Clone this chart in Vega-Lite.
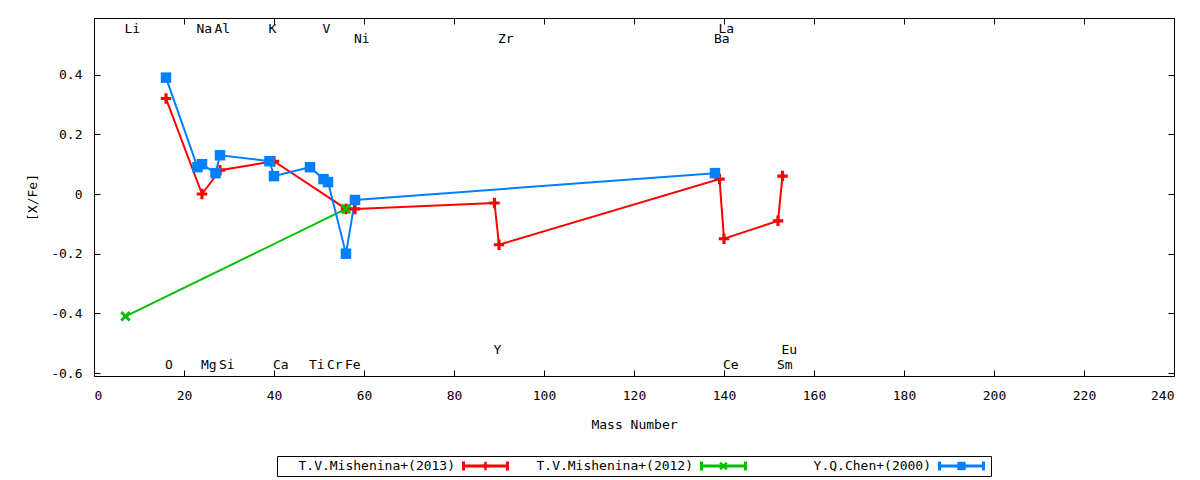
{
  "$schema": "https://vega.github.io/schema/vega-lite/v6.json",
  "padding": {"left": 26, "top": 17, "right": 5, "bottom": 5},
  "background": "#ffffff",
  "config": {
    "font": "DejaVu Sans Mono",
    "view": {"stroke": "#000000", "strokeWidth": 1},
    "axis": {
      "labelFont": "DejaVu Sans Mono",
      "titleFont": "DejaVu Sans Mono",
      "labelFontSize": 13,
      "titleFontSize": 13,
      "titleFontWeight": "normal",
      "labelColor": "#000000",
      "titleColor": "#000000",
      "tickColor": "#000000",
      "grid": false,
      "domain": false,
      "tickSize": -6
    },
    "text": {"font": "DejaVu Sans Mono", "fontSize": 13, "color": "#000000"}
  },
  "datasets": {
    "abund": [
      {"series": "T.V.Mishenina+(2013)", "el": "O", "mass": 16, "xfe": 0.32},
      {"series": "T.V.Mishenina+(2013)", "el": "Mg", "mass": 24, "xfe": 0.0},
      {"series": "T.V.Mishenina+(2013)", "el": "Si", "mass": 28, "xfe": 0.08},
      {"series": "T.V.Mishenina+(2013)", "el": "Ca", "mass": 40, "xfe": 0.11},
      {"series": "T.V.Mishenina+(2013)", "el": "Fe", "mass": 56, "xfe": -0.05},
      {"series": "T.V.Mishenina+(2013)", "el": "Ni", "mass": 58, "xfe": -0.05},
      {"series": "T.V.Mishenina+(2013)", "el": "Y", "mass": 89, "xfe": -0.03},
      {"series": "T.V.Mishenina+(2013)", "el": "Zr", "mass": 90, "xfe": -0.17},
      {"series": "T.V.Mishenina+(2013)", "el": "La", "mass": 139, "xfe": 0.05},
      {"series": "T.V.Mishenina+(2013)", "el": "Ce", "mass": 140, "xfe": -0.15},
      {"series": "T.V.Mishenina+(2013)", "el": "Sm", "mass": 152, "xfe": -0.09},
      {"series": "T.V.Mishenina+(2013)", "el": "Eu", "mass": 153, "xfe": 0.06},
      {"series": "T.V.Mishenina+(2012)", "el": "Li", "mass": 7, "xfe": -0.41},
      {"series": "T.V.Mishenina+(2012)", "el": "Fe", "mass": 56, "xfe": -0.05},
      {"series": "Y.Q.Chen+(2000)", "el": "O", "mass": 16, "xfe": 0.39},
      {"series": "Y.Q.Chen+(2000)", "el": "Na", "mass": 23, "xfe": 0.09},
      {"series": "Y.Q.Chen+(2000)", "el": "Mg", "mass": 24, "xfe": 0.10},
      {"series": "Y.Q.Chen+(2000)", "el": "Al", "mass": 27, "xfe": 0.07},
      {"series": "Y.Q.Chen+(2000)", "el": "Si", "mass": 28, "xfe": 0.13},
      {"series": "Y.Q.Chen+(2000)", "el": "K", "mass": 39, "xfe": 0.11},
      {"series": "Y.Q.Chen+(2000)", "el": "Ca", "mass": 40, "xfe": 0.06},
      {"series": "Y.Q.Chen+(2000)", "el": "Ti", "mass": 48, "xfe": 0.09},
      {"series": "Y.Q.Chen+(2000)", "el": "V", "mass": 51, "xfe": 0.05},
      {"series": "Y.Q.Chen+(2000)", "el": "Cr", "mass": 52, "xfe": 0.04},
      {"series": "Y.Q.Chen+(2000)", "el": "Fe", "mass": 56, "xfe": -0.20},
      {"series": "Y.Q.Chen+(2000)", "el": "Ni", "mass": 58, "xfe": -0.02},
      {"series": "Y.Q.Chen+(2000)", "el": "Ba", "mass": 138, "xfe": 0.07}
    ],
    "elements": [
      {"el": "Li", "mass": 7, "level": "top1"},
      {"el": "O", "mass": 16, "level": "bottom1"},
      {"el": "Na", "mass": 23, "level": "top1"},
      {"el": "Mg", "mass": 24, "level": "bottom1"},
      {"el": "Al", "mass": 27, "level": "top1"},
      {"el": "Si", "mass": 28, "level": "bottom1"},
      {"el": "K", "mass": 39, "level": "top1"},
      {"el": "Ca", "mass": 40, "level": "bottom1"},
      {"el": "Ti", "mass": 48, "level": "bottom1"},
      {"el": "V", "mass": 51, "level": "top1"},
      {"el": "Cr", "mass": 52, "level": "bottom1"},
      {"el": "Fe", "mass": 56, "level": "bottom1"},
      {"el": "Ni", "mass": 58, "level": "top2"},
      {"el": "Y", "mass": 89, "level": "bottom2"},
      {"el": "Zr", "mass": 90, "level": "top2"},
      {"el": "Ba", "mass": 138, "level": "top2"},
      {"el": "La", "mass": 139, "level": "top1"},
      {"el": "Ce", "mass": 140, "level": "bottom1"},
      {"el": "Sm", "mass": 152, "level": "bottom1"},
      {"el": "Eu", "mass": 153, "level": "bottom2"}
    ],
    "keys": [
      {"series": "T.V.Mishenina+(2013)"},
      {"series": "T.V.Mishenina+(2012)"},
      {"series": "Y.Q.Chen+(2000)"}
    ]
  },
  "vconcat": [
    {
      "width": 1080,
      "height": 358,
      "data": {"name": "abund"},
      "resolve": {"axis": {"x": "independent", "y": "independent"}},
      "layer": [
        {
          "mark": {"type": "line", "strokeWidth": 2},
          "encoding": {
            "x": {
              "field": "mass", "type": "quantitative",
              "scale": {"domain": [0, 240], "nice": false, "zero": false},
              "axis": {"orient": "bottom", "values": [0, 20, 40, 60, 80, 100, 120, 140, 160, 180, 200, 220, 240], "labelPadding": 19, "title": "Mass Number", "titlePadding": 16}
            },
            "y": {
              "field": "xfe", "type": "quantitative",
              "scale": {"domain": [-0.61, 0.59], "nice": false, "zero": false},
              "axis": {"orient": "left", "values": [-0.6, -0.4, -0.2, 0, 0.2, 0.4], "labelExpr": "toString(round(datum.value * 10) / 10)", "labelPadding": 18, "title": "[X/Fe]", "titlePadding": 11}
            },
            "color": {
              "field": "series", "type": "nominal",
              "scale": {"domain": ["T.V.Mishenina+(2013)", "T.V.Mishenina+(2012)", "Y.Q.Chen+(2000)"], "range": ["#ff0000", "#00c000", "#0080ff"]},
              "legend": null
            },
            "order": {"field": "mass", "type": "quantitative"}
          }
        },
        {
          "mark": {"type": "point", "filled": true, "opacity": 1, "size": 110},
          "encoding": {
            "x": {
              "field": "mass", "type": "quantitative",
              "axis": {"orient": "top", "values": [0, 20, 40, 60, 80, 100, 120, 140, 160, 180, 200, 220, 240], "labels": false, "title": null}
            },
            "y": {
              "field": "xfe", "type": "quantitative",
              "axis": {"orient": "right", "values": [-0.6, -0.4, -0.2, 0, 0.2, 0.4], "labels": false, "title": null}
            },
            "color": {"field": "series", "type": "nominal", "legend": null},
            "shape": {
              "field": "series", "type": "nominal",
              "scale": {
                "domain": ["T.V.Mishenina+(2013)", "T.V.Mishenina+(2012)", "Y.Q.Chen+(2000)"],
                "range": [
                  "M-1,-0.3H-0.3V-1H0.3V-0.3H1V0.3H0.3V1H-0.3V0.3H-1Z",
                  "M-1,-0.6L-0.6,-1L0,-0.4L0.6,-1L1,-0.6L0.4,0L1,0.6L0.6,1L0,0.4L-0.6,1L-1,0.6L-0.4,0Z",
                  "M-1,-1H1V1H-1Z"
                ]
              },
              "legend": null
            }
          }
        },
        {
          "data": {"name": "elements"},
          "transform": [{"filter": "datum.level == 'top1'"}],
          "mark": {"type": "text", "align": "left", "baseline": "middle", "dx": -1},
          "encoding": {
            "x": {"field": "mass", "type": "quantitative", "axis": null},
            "y": {"datum": 0.553, "axis": null},
            "text": {"field": "el"}
          }
        },
        {
          "data": {"name": "elements"},
          "transform": [{"filter": "datum.level == 'top2'"}],
          "mark": {"type": "text", "align": "left", "baseline": "middle", "dx": -1},
          "encoding": {
            "x": {"field": "mass", "type": "quantitative", "axis": null},
            "y": {"datum": 0.519, "axis": null},
            "text": {"field": "el"}
          }
        },
        {
          "data": {"name": "elements"},
          "transform": [{"filter": "datum.level == 'bottom2'"}],
          "mark": {"type": "text", "align": "left", "baseline": "middle", "dx": -1},
          "encoding": {
            "x": {"field": "mass", "type": "quantitative", "axis": null},
            "y": {"datum": -0.523, "axis": null},
            "text": {"field": "el"}
          }
        },
        {
          "data": {"name": "elements"},
          "transform": [{"filter": "datum.level == 'bottom1'"}],
          "mark": {"type": "text", "align": "left", "baseline": "middle", "dx": -1},
          "encoding": {
            "x": {"field": "mass", "type": "quantitative", "axis": null},
            "y": {"datum": -0.573, "axis": null},
            "text": {"field": "el"}
          }
        }
      ]
    },
    {
      "width": 714,
      "height": 20,
      "data": {"name": "keys"},
      "layer": [
        {
          "mark": {"type": "text", "align": "right", "baseline": "middle"},
          "encoding": {
            "x": {
              "field": "series", "type": "nominal", "bandPosition": 0.748,
              "scale": {"type": "band", "domain": ["T.V.Mishenina+(2013)", "T.V.Mishenina+(2012)", "Y.Q.Chen+(2000)"], "paddingInner": 0, "paddingOuter": 0},
              "axis": null
            },
            "text": {"field": "series"}
          }
        },
        {
          "mark": {"type": "point", "filled": false, "opacity": 1, "size": 1936, "strokeWidth": 3, "shape": "M-1,0H1M-1,-0.2V0.2M1,-0.2V0.2"},
          "encoding": {
            "x": {"field": "series", "type": "nominal", "bandPosition": 0.876, "axis": null},
            "color": {"field": "series", "type": "nominal", "legend": null}
          }
        },
        {
          "mark": {"type": "point", "filled": true, "opacity": 1, "size": 70},
          "encoding": {
            "x": {"field": "series", "type": "nominal", "bandPosition": 0.876, "axis": null},
            "color": {"field": "series", "type": "nominal", "legend": null},
            "shape": {"field": "series", "type": "nominal", "legend": null}
          }
        }
      ]
    }
  ],
  "spacing": 80,
  "bounds": "flush",
  "center": true
}
